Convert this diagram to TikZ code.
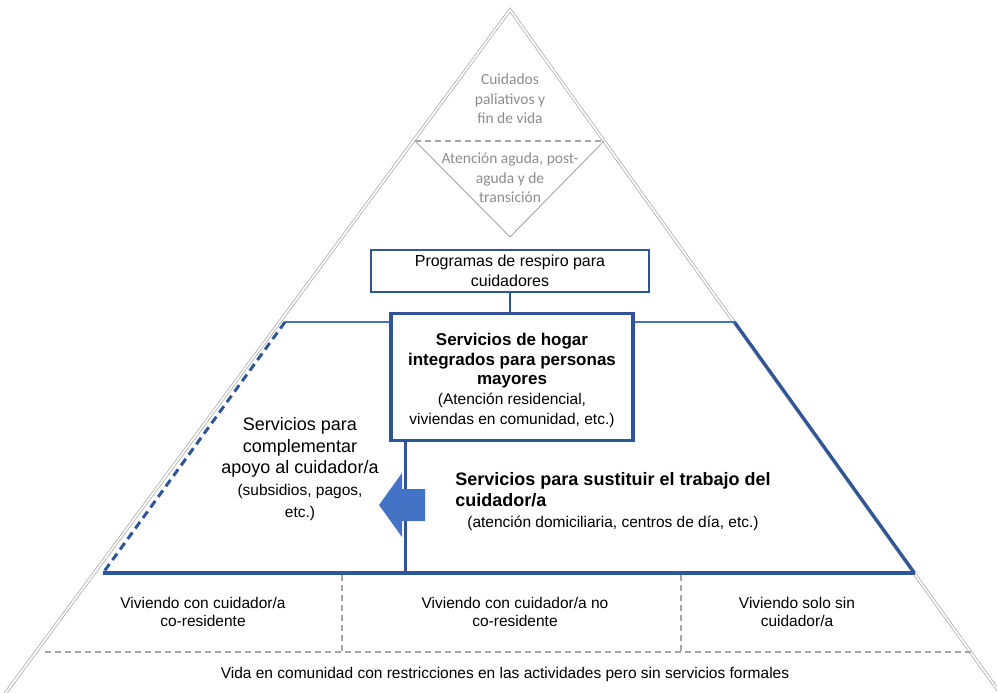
\documentclass[tikz,border=0pt]{standalone}
\usepackage{fontspec}
\setmainfont{Liberation Sans}
\newfontfamily\calib{Carlito}
\usetikzlibrary{calc}
\definecolor{dblue}{HTML}{2F5597}
\definecolor{lblue}{HTML}{4472C4}
\definecolor{lgray}{HTML}{A6A6A6}
\definecolor{tgray}{HTML}{8C8C8C}
\newcommand{\fbBox}{\bfseries\fontsize{17}{20}\selectfont}
\newcommand{\fcRom}{\fontsize{18}{22}\selectfont}
\newcommand{\fsBold}{\bfseries\fontsize{18}{21}\selectfont}
\newcommand{\fpSmall}{\fontsize{15.5}{19}\selectfont}
\begin{document}
\begin{tikzpicture}[x=1pt,y=-1pt,
  outer/.style={draw=lgray, line width=0.7pt, double=white, double distance=1.8pt},
  gdash/.style={draw=lgray, line width=1.4pt, dash pattern=on 6pt off 4pt},
  gthin/.style={draw=lgray, line width=0.9pt},
  gtext/.style={text=tgray, font=\calib\fontsize{15.5}{19.5}\selectfont, align=center, inner sep=0pt},
  ctext/.style={font=\fontsize{15.5}{18.5}\selectfont, align=center, inner sep=0pt},
  box/.style={draw=dblue, fill=white, align=center, inner sep=0pt},
  bline/.style={draw=dblue, line width=3.2pt},
  lline/.style={draw=lblue, line width=2.6pt},
  bdash/.style={draw=dblue, line width=3pt, dash pattern=on 8pt off 5pt},
]
\useasboundingbox (0,0) rectangle (997,693);
\clip (0,0) rectangle (997,693);

% key coordinates on triangle edges
\coordinate (apex) at (510,10);
\coordinate (L141) at (415.1,141);
\coordinate (R141) at (604,141);
\coordinate (dv) at (510,237);
\coordinate (L322) at (285,322);
\coordinate (R322) at (734.5,322);
\coordinate (L573) at (103,573);
\coordinate (R573) at (914.5,573);
\coordinate (L652) at (44.7,652);
\coordinate (R652) at (970.6,652);

% outer triangle (double gray)
\draw[outer] (-4,706) -- (apex) -- (1010,707);

% top section
\draw[gdash] (L141) -- (R141);
\draw[gthin] (L141) -- (dv) -- (R141);
\node[gtext] (pal) at (510,99) {Cuidados\\paliativos y\\fin de vida};
\node[gtext] (agu) at (510,178) {Atención aguda, post-\\aguda y de\\transición};

% trapezoid
\draw[bdash] (L322) -- (L573);
\draw[bline] (R322) -- (R573);
\draw[bline] (L573) -- (R573);

% boxes
\node[box, line width=2.2pt, minimum width=278pt, minimum height=42pt,
      font=\fontsize{16}{20}\selectfont] (resp) at (510,271)
      {Programas de respiro para\\cuidadores};
\node[box, line width=3.2pt, minimum width=242pt, minimum height=127pt,
      font=\fontsize{15.5}{19.8}\selectfont] (hogar) at (512,377)
      {{\fbBox \rule{0pt}{19pt}Servicios de hogar}\\
       {\fbBox integrados para personas}\\
       {\fbBox mayores}\\
       {\fpSmall (Atención residencial,}\\
       {\fpSmall viviendas en comunidad, etc.)}};
\draw[dblue, line width=2.4pt] (resp.south) -- (resp.south |- hogar.north);
\draw[lline] (L322) -- (L322 -| hogar.west);
\draw[lline] (R322) -- (R322 -| hogar.east);

\coordinate (vtop) at ($(hogar.south west)+(16,0)$);
\draw[dblue, line width=2.8pt] (vtop) -- (vtop |- L573);

% arrow
\fill[lblue] (379,505) -- (402,473) -- (402,489) -- (425,489) -- (425,521) -- (402,521) -- (402,537) -- cycle;

% side texts
\node[align=center, inner sep=0pt, font=\fontsize{15.5}{21.8}\selectfont] (comp) at (300,469)
  {{\fcRom Servicios para}\\
   {\fcRom complementar}\\
   {\fcRom apoyo al cuidador/a}\\
   {\fpSmall (subsidios, pagos,}\\
   {\fpSmall etc.)}};
\node[align=center, inner sep=0pt, font=\fontsize{15.5}{21}\selectfont] (sust) at (613,502)
  {{\fsBold Servicios para sustituir el trabajo del}\\
   {\fsBold \rlap{cuidador/a}\hphantom{Servicios para sustituir el trabajo del}}\\
   {\fpSmall (atención domiciliaria, centros de día, etc.)}};

% bottom section
\coordinate (d1) at (342,575);
\coordinate (d2) at (681,575);
\draw[gdash] (d1) -- (d1 |- L652);
\draw[gdash] (d2) -- (d2 |- L652);
\draw[gdash] (L652) -- (R652);
\node[ctext] (c1) at (203,612) {Viviendo con cuidador/a\\co-residente};
\node[ctext] (c2) at (515,612) {Viviendo con cuidador/a no\\co-residente};
\node[ctext] (c3) at (797,612) {Viviendo solo sin\\cuidador/a};
\node[ctext] (vida) at (505,674) {Vida en comunidad con restricciones en las actividades pero sin servicios formales};
\end{tikzpicture}
\end{document}
